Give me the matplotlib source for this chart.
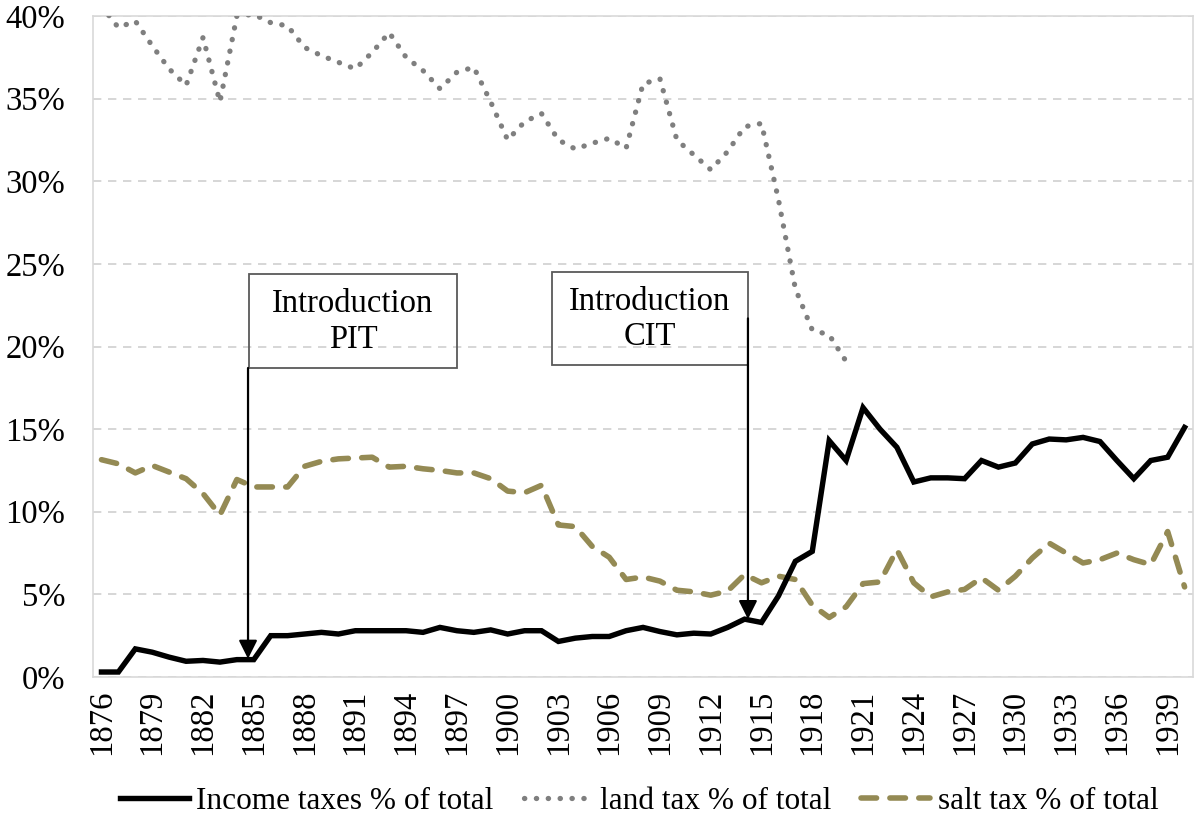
import matplotlib
matplotlib.use("Agg")
import matplotlib.pyplot as plt
from matplotlib.patches import Rectangle
import numpy as np

plt.rcParams['font.family'] = ['Liberation Serif', 'DejaVu Serif']

years = list(range(1876, 1941))

income_tax = [0.3, 0.3, 1.7, 1.5, 1.2, 0.95, 1.0, 0.9, 1.05, 1.05,
              2.5, 2.5, 2.6, 2.7, 2.6, 2.8, 2.8, 2.8, 2.8, 2.7,
              3.0, 2.8, 2.7, 2.85, 2.6, 2.8, 2.8, 2.15, 2.35, 2.45,
              2.45, 2.8, 3.0, 2.75, 2.55, 2.65, 2.6, 3.0, 3.5, 3.3,
              4.9, 7.0, 7.6, 14.3, 13.1, 16.3, 15.0, 13.9, 11.8, 12.05,
              12.05, 12.0, 13.1, 12.7, 12.95, 14.1, 14.4, 14.35, 14.5, 14.25,
              13.1, 12.0, 13.1, 13.3, 15.1]

land_tax = [40.6, 39.3, 39.7, 38.2, 36.8, 35.8, 38.7, 34.8, 40.0, 40.1,
            39.6, 39.4, 38.1, 37.6, 37.2, 36.8, 37.8, 39.0, 37.5, 36.7,
            35.6, 36.6, 36.9, 34.8, 32.5, 33.6, 34.1, 32.5, 31.95, 32.3,
            32.6, 32.0, 35.9, 36.2, 32.5, 31.6, 30.7, 31.8, 33.3, 33.5,
            28.9, 23.5, 21.0, 20.7, 19.1]

salt_tax = [13.15, 12.9, 12.35, 12.8, 12.4, 12.0, 11.1, 9.8, 11.95, 11.5,
            11.5, 11.5, 12.75, 13.05, 13.2, 13.25, 13.3, 12.7, 12.75, 12.6,
            12.5, 12.35, 12.35, 12.0, 11.25, 11.15, 11.6, 9.2, 9.1, 7.9,
            7.25, 5.9, 6.05, 5.8, 5.25, 5.15, 4.95, 5.2, 6.2, 5.7,
            6.1, 5.9, 4.35, 3.6, 4.25, 5.65, 5.75, 7.7, 5.7, 4.85,
            5.15, 5.3, 6.0, 5.25, 6.1, 7.2, 8.1, 7.5, 6.9, 7.1,
            7.5, 7.1, 6.8, 8.8, 5.45]

FS = 23.5

fig = plt.figure(figsize=(11.97, 8.18), dpi=100)
ax = fig.add_axes([0.0777, 0.1724, 0.919, 0.808])

x = np.arange(len(years))
ax.plot(x, income_tax, color='black', lw=3.9, solid_joinstyle='miter',
        label='Income taxes % of total', zorder=4)
ax.plot(x[:len(land_tax)], land_tax, color='#7f7f7f', lw=3.8,
        linestyle=(0, (0.05, 2.2)), dash_capstyle='round',
        label='land tax % of total', zorder=3)
ax.plot(x, salt_tax, color='#948a54', lw=4.0, linestyle=(0, (2.8, 2.4)),
        dash_capstyle='round', label='salt tax % of total', zorder=3)

ax.set_xlim(-0.5, len(years) - 0.5)
ax.set_ylim(0, 40)
ax.set_yticks(range(0, 41, 5))
ax.set_yticklabels([f'{v}%' for v in range(0, 41, 5)])
ax.set_xticks(x[::3])
ax.set_xticklabels([str(y) for y in years[::3]], rotation=90)
ax.tick_params(axis='y', length=0, pad=20, labelsize=FS)
ax.tick_params(axis='x', length=0, pad=9, labelsize=FS)

ax.grid(axis='y', color='#d0d0d0', lw=1.2, linestyle=(0, (5, 4)))
ax.set_axisbelow(True)
for s in ax.spines.values():
    s.set_color('#d9d9d9')
    s.set_linewidth(1.2)

# annotation boxes
ax.add_patch(Rectangle((8.72, 18.7), 12.3, 5.7, fill=False,
                       edgecolor='#595959', lw=1.3, zorder=5))
ax.text(14.86, 21.5, 'Introduction\nPIT', ha='center', va='center',
        fontsize=FS, linespacing=1.2, zorder=6)
ax.annotate('', xy=(8.66, 1.1), xytext=(8.66, 18.7),
            arrowprops=dict(arrowstyle='-|>', color='black', lw=1.6,
                            mutation_scale=28, shrinkA=0, shrinkB=0), zorder=6)

ax.add_patch(Rectangle((26.6, 18.9), 11.6, 5.6, fill=False,
                       edgecolor='#595959', lw=1.3, zorder=5))
ax.text(32.4, 21.65, 'Introduction\nCIT', ha='center', va='center',
        fontsize=FS, linespacing=1.2, zorder=6)
ax.annotate('', xy=(38.2, 3.5), xytext=(38.2, 21.7),
            arrowprops=dict(arrowstyle='-|>', color='black', lw=1.6,
                            mutation_scale=28, shrinkA=0, shrinkB=0), zorder=6)

fig.legend(loc='lower center', bbox_to_anchor=(0.534, -0.021), ncol=3,
           frameon=False, fontsize=22.5, handlelength=2.2, columnspacing=0.95,
           handletextpad=0.25, borderpad=0.1)

fig.savefig('out.png', dpi=100)
